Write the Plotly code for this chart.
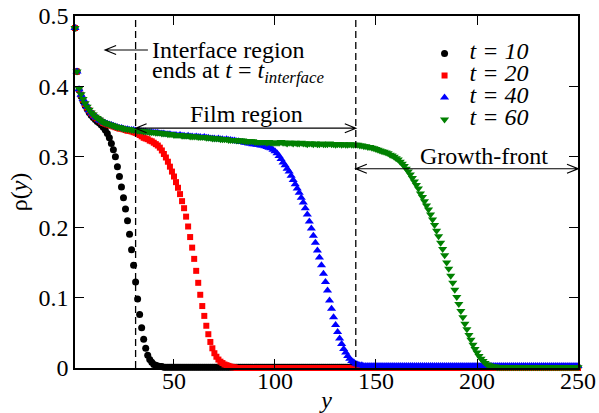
import plotly.graph_objects as go

# positions along y (lattice rows)
y_pos = list(range(1, 251))

rho_t10 = [
    0.483, 0.421, 0.395, 0.386, 0.379, 0.373, 0.368, 0.363, 0.359, 0.356,
    0.353, 0.350, 0.348, 0.345, 0.342, 0.338, 0.333, 0.327, 0.319, 0.310,
    0.300, 0.286, 0.272, 0.257, 0.242, 0.226, 0.209, 0.190, 0.168, 0.146,
    0.122, 0.098, 0.076, 0.057, 0.041, 0.028, 0.018, 0.012, 0.008, 0.005,
    0.004, 0.003, 0.002, 0.002, 0.001, 0.001, 0.001, 0.001, 0.001, 0.001,
    0.001, 0.001, 0.001, 0.001, 0.001, 0.001, 0.001, 0.001, 0.001, 0.001,
    0.001, 0.001, 0.001, 0.001, 0.001, 0.001, 0.001, 0.001, 0.001, 0.001,
    0.001, 0.001, 0.001, 0.001, 0.001, 0.001, 0.001, 0.001, 0.001, 0.001,
    0.001, 0.001, 0.001, 0.001, 0.001, 0.001, 0.001, 0.001, 0.001, 0.001,
    0.001, 0.001, 0.001, 0.001, 0.001, 0.001, 0.001, 0.001, 0.001, 0.001,
    0.001, 0.001, 0.001, 0.001, 0.001, 0.001, 0.001, 0.001, 0.001, 0.001,
    0.001, 0.001, 0.001, 0.001, 0.001, 0.001, 0.001, 0.001, 0.001, 0.001,
    0.001, 0.001, 0.001, 0.001, 0.001, 0.001, 0.001, 0.001, 0.001, 0.001,
    0.001, 0.001, 0.001, 0.001, 0.001, 0.001, 0.001, 0.001, 0.001, 0.001,
    0.001, 0.001, 0.001, 0.001, 0.001, 0.001, 0.001, 0.001, 0.001, 0.001,
    0.001, 0.001, 0.001, 0.001, 0.001, 0.001, 0.001, 0.001, 0.001, 0.001,
    0.001, 0.001, 0.001, 0.001, 0.001, 0.001, 0.001, 0.001, 0.001, 0.001,
    0.001, 0.001, 0.001, 0.001, 0.001, 0.001, 0.001, 0.001, 0.001, 0.001,
    0.001, 0.001, 0.001, 0.001, 0.001, 0.001, 0.001, 0.001, 0.001, 0.001,
    0.001, 0.001, 0.001, 0.001, 0.001, 0.001, 0.001, 0.001, 0.001, 0.001,
    0.001, 0.001, 0.001, 0.001, 0.001, 0.001, 0.001, 0.001, 0.001, 0.001,
    0.001, 0.001, 0.001, 0.001, 0.001, 0.001, 0.001, 0.001, 0.001, 0.001,
    0.001, 0.001, 0.001, 0.001, 0.001, 0.001, 0.001, 0.001, 0.001, 0.001,
    0.001, 0.001, 0.001, 0.001, 0.001, 0.001, 0.001, 0.001, 0.001, 0.001,
    0.001, 0.001, 0.001, 0.001, 0.001, 0.001, 0.001, 0.001, 0.001, 0.001,
]

rho_t20 = [
    0.483, 0.421, 0.396, 0.388, 0.381, 0.375, 0.370, 0.366, 0.362, 0.359,
    0.356, 0.354, 0.352, 0.350, 0.348, 0.347, 0.346, 0.345, 0.344, 0.343,
    0.342, 0.341, 0.340, 0.340, 0.339, 0.338, 0.337, 0.337, 0.336, 0.335,
    0.334, 0.333, 0.331, 0.329, 0.327, 0.326, 0.325, 0.323, 0.322, 0.320,
    0.318, 0.316, 0.313, 0.309, 0.304, 0.299, 0.293, 0.286, 0.279, 0.272,
    0.264, 0.256, 0.247, 0.237, 0.227, 0.215, 0.201, 0.186, 0.171, 0.155,
    0.138, 0.121, 0.104, 0.088, 0.074, 0.060, 0.048, 0.037, 0.028, 0.021,
    0.016, 0.012, 0.009, 0.007, 0.005, 0.004, 0.003, 0.002, 0.001, 0.001,
    0.0, 0.0, 0.0, 0.0, 0.0, 0.0, 0.0, 0.0, 0.0, 0.0,
    0.0, 0.0, 0.0, 0.0, 0.0, 0.0, 0.0, 0.0, 0.0, 0.0,
    0.0, 0.0, 0.0, 0.0, 0.0, 0.0, 0.0, 0.0, 0.0, 0.0,
    0.0, 0.0, 0.0, 0.0, 0.0, 0.0, 0.0, 0.0, 0.0, 0.0,
    0.0, 0.0, 0.0, 0.0, 0.0, 0.0, 0.0, 0.0, 0.0, 0.0,
    0.0, 0.0, 0.0, 0.0, 0.0, 0.0, 0.0, 0.0, 0.0, 0.0,
    0.0, 0.0, 0.0, 0.0, 0.0, 0.0, 0.0, 0.0, 0.0, 0.0,
    0.0, 0.0, 0.0, 0.0, 0.0, 0.0, 0.0, 0.0, 0.0, 0.0,
    0.0, 0.0, 0.0, 0.0, 0.0, 0.0, 0.0, 0.0, 0.0, 0.0,
    0.0, 0.0, 0.0, 0.0, 0.0, 0.0, 0.0, 0.0, 0.0, 0.0,
    0.0, 0.0, 0.0, 0.0, 0.0, 0.0, 0.0, 0.0, 0.0, 0.0,
    0.0, 0.0, 0.0, 0.0, 0.0, 0.0, 0.0, 0.0, 0.0, 0.0,
    0.0, 0.0, 0.0, 0.0, 0.0, 0.0, 0.0, 0.0, 0.0, 0.0,
    0.0, 0.0, 0.0, 0.0, 0.0, 0.0, 0.0, 0.0, 0.0, 0.0,
    0.0, 0.0, 0.0, 0.0, 0.0, 0.0, 0.0, 0.0, 0.0, 0.0,
    0.0, 0.0, 0.0, 0.0, 0.0, 0.0, 0.0, 0.0, 0.0, 0.0,
    0.0, 0.0, 0.0, 0.0, 0.0, 0.0, 0.0, 0.0, 0.0, 0.0,
]

rho_t40 = [
    0.483, 0.421, 0.396, 0.388, 0.382, 0.376, 0.371, 0.366, 0.363, 0.360,
    0.357, 0.355, 0.352, 0.351, 0.349, 0.348, 0.347, 0.346, 0.345, 0.344,
    0.343, 0.342, 0.341, 0.341, 0.340, 0.339, 0.339, 0.338, 0.338, 0.338,
    0.337, 0.337, 0.337, 0.336, 0.336, 0.336, 0.335, 0.335, 0.335, 0.334,
    0.334, 0.334, 0.333, 0.333, 0.333, 0.332, 0.332, 0.332, 0.331, 0.331,
    0.331, 0.330, 0.331, 0.330, 0.330, 0.329, 0.330, 0.329, 0.329, 0.328,
    0.329, 0.328, 0.328, 0.327, 0.328, 0.327, 0.327, 0.326, 0.326, 0.326,
    0.325, 0.326, 0.325, 0.325, 0.324, 0.325, 0.324, 0.324, 0.323, 0.323,
    0.322, 0.322, 0.321, 0.321, 0.320, 0.320, 0.319, 0.319, 0.318, 0.318,
    0.317, 0.317, 0.316, 0.316, 0.315, 0.314, 0.313, 0.312, 0.310, 0.308,
    0.305, 0.301, 0.297, 0.292, 0.288, 0.283, 0.279, 0.273, 0.267, 0.261,
    0.255, 0.249, 0.242, 0.235, 0.227, 0.218, 0.208, 0.198, 0.188, 0.178,
    0.167, 0.157, 0.146, 0.134, 0.122, 0.110, 0.096, 0.084, 0.072, 0.061,
    0.051, 0.042, 0.034, 0.027, 0.022, 0.017, 0.013, 0.010, 0.008, 0.006,
    0.005, 0.004, 0.004, 0.003, 0.003, 0.003, 0.003, 0.003, 0.003, 0.003,
    0.003, 0.003, 0.003, 0.003, 0.003, 0.003, 0.003, 0.003, 0.003, 0.003,
    0.003, 0.003, 0.003, 0.003, 0.003, 0.003, 0.003, 0.003, 0.003, 0.003,
    0.003, 0.003, 0.003, 0.003, 0.003, 0.003, 0.003, 0.003, 0.003, 0.003,
    0.003, 0.003, 0.003, 0.003, 0.003, 0.003, 0.003, 0.003, 0.003, 0.003,
    0.003, 0.003, 0.003, 0.003, 0.003, 0.003, 0.003, 0.003, 0.003, 0.003,
    0.003, 0.003, 0.003, 0.003, 0.003, 0.003, 0.003, 0.003, 0.003, 0.003,
    0.003, 0.003, 0.003, 0.003, 0.003, 0.003, 0.003, 0.003, 0.003, 0.003,
    0.003, 0.003, 0.003, 0.003, 0.003, 0.003, 0.003, 0.003, 0.003, 0.003,
    0.003, 0.003, 0.003, 0.003, 0.003, 0.003, 0.003, 0.003, 0.003, 0.003,
    0.003, 0.003, 0.003, 0.003, 0.003, 0.003, 0.003, 0.003, 0.003, 0.003,
]

rho_t60 = [
    0.483, 0.421, 0.397, 0.389, 0.382, 0.376, 0.371, 0.367, 0.363, 0.360,
    0.357, 0.355, 0.353, 0.351, 0.349, 0.348, 0.347, 0.346, 0.345, 0.344,
    0.343, 0.342, 0.342, 0.341, 0.340, 0.340, 0.339, 0.339, 0.338, 0.338,
    0.338, 0.337, 0.337, 0.337, 0.336, 0.336, 0.336, 0.335, 0.335, 0.335,
    0.334, 0.334, 0.334, 0.333, 0.333, 0.333, 0.332, 0.332, 0.332, 0.331,
    0.331, 0.331, 0.331, 0.330, 0.330, 0.330, 0.330, 0.329, 0.329, 0.329,
    0.329, 0.328, 0.328, 0.328, 0.328, 0.327, 0.327, 0.327, 0.326, 0.326,
    0.326, 0.326, 0.325, 0.325, 0.325, 0.325, 0.324, 0.324, 0.324, 0.324,
    0.323, 0.323, 0.323, 0.323, 0.322, 0.322, 0.322, 0.322, 0.322, 0.321,
    0.321, 0.321, 0.321, 0.321, 0.321, 0.320, 0.321, 0.320, 0.320, 0.320,
    0.320, 0.320, 0.321, 0.320, 0.320, 0.319, 0.320, 0.320, 0.319, 0.320,
    0.319, 0.319, 0.320, 0.319, 0.319, 0.318, 0.319, 0.319, 0.318, 0.319,
    0.318, 0.318, 0.319, 0.318, 0.318, 0.318, 0.319, 0.318, 0.318, 0.317,
    0.318, 0.318, 0.317, 0.318, 0.317, 0.317, 0.318, 0.317, 0.317, 0.317,
    0.317, 0.316, 0.316, 0.315, 0.315, 0.314, 0.314, 0.313, 0.312, 0.311,
    0.310, 0.309, 0.308, 0.307, 0.306, 0.305, 0.303, 0.302, 0.300, 0.298,
    0.296, 0.293, 0.290, 0.287, 0.283, 0.279, 0.275, 0.270, 0.265, 0.260,
    0.255, 0.248, 0.243, 0.237, 0.231, 0.225, 0.218, 0.211, 0.203, 0.195,
    0.187, 0.178, 0.169, 0.160, 0.150, 0.141, 0.131, 0.121, 0.111, 0.101,
    0.091, 0.081, 0.072, 0.063, 0.055, 0.047, 0.040, 0.033, 0.027, 0.022,
    0.017, 0.013, 0.010, 0.007, 0.005, 0.004, 0.003, 0.002, 0.002, 0.001,
    0.001, 0.001, 0.001, 0.001, 0.001, 0.001, 0.001, 0.001, 0.001, 0.001,
    0.001, 0.001, 0.001, 0.001, 0.001, 0.001, 0.001, 0.001, 0.001, 0.001,
    0.001, 0.001, 0.001, 0.001, 0.001, 0.001, 0.001, 0.001, 0.001, 0.001,
    0.001, 0.001, 0.001, 0.001, 0.001, 0.001, 0.001, 0.001, 0.001, 0.001,
]

for s in (rho_t10, rho_t20, rho_t40, rho_t60):
    assert len(s) == 250, len(s)

series_names = ["t = 10", "t = 20", "t = 40", "t = 60"]
series_values = [rho_t10, rho_t20, rho_t40, rho_t60]
series_colors = ["black", "red", "blue", "green"]
series_symbols = ["circle", "square", "triangle-up", "triangle-down"]
series_sizes = [7, 6, 8, 8]

x_tick_vals = [50, 100, 150, 200, 250]
y_tick_vals = [0, 0.1, 0.2, 0.3, 0.4, 0.5]
y_tick_text = ["0", "0.1", "0.2", "0.3", "0.4", "0.5"]

# region boundaries (annotation geometry)
interface_end = 31
film_end = 140
y_end = 250
arrow_interface_y = 0.4517
arrow_film_y = 0.3406
arrow_growth_y = 0.283

FONT = "Liberation Serif"

fig = go.Figure()
for name, vals, col, sym, sz in zip(series_names, series_values, series_colors,
                                    series_symbols, series_sizes):
    fig.add_trace(go.Scatter(
        x=y_pos, y=vals, mode="markers",
        name='<span style="font-size:24px"><i>' + name + '</i></span>',
        marker=dict(color=col, symbol=sym, size=sz, line=dict(width=0)),
        cliponaxis=False,
    ))

# pixel->data helpers for arrow heads
plot_w = 599 - 75 - 21
plot_h = 413 - 16 - 45
px_x = (y_end - 1) / plot_w
px_y = 0.5 / plot_h
hx = 11 * px_x
hy = 4.5 * px_y

shapes = []
for xv in (interface_end, film_end):
    shapes.append(dict(type="line", xref="x", yref="y", x0=xv, x1=xv, y0=0, y1=0.5,
                       line=dict(color="black", width=1.3, dash="7px,4px")))


def arrow_path(x_left, x_right, yv, left_head, right_head):
    p = f"M{x_left},{yv} L{x_right},{yv}"
    if left_head:
        p += f" M{x_left + hx},{yv + hy} L{x_left},{yv} L{x_left + hx},{yv - hy}"
    if right_head:
        p += f" M{x_right - hx},{yv + hy} L{x_right},{yv} L{x_right - hx},{yv - hy}"
    return p


arrow_specs = [
    (15.9, 37.1, arrow_interface_y, True, False),
    (interface_end, film_end, arrow_film_y, True, True),
    (film_end, y_end, arrow_growth_y, True, True),
]
for xl, xr, yv, lh, rh in arrow_specs:
    shapes.append(dict(type="path", xref="x", yref="y", path=arrow_path(xl, xr, yv, lh, rh),
                       line=dict(color="black", width=1.2)))

annotations = [
    dict(x=38.0, y=0.4517, xref="x", yref="y", text="Interface region", showarrow=False,
         xanchor="left", yanchor="middle", font=dict(size=24, family=FONT, color="black")),
    dict(x=38.0, y=0.421, xref="x", yref="y",
         text="ends at <i>t</i> = <i>t</i><sub><i>interface</i></sub>", showarrow=False,
         xanchor="left", yanchor="middle", font=dict(size=24, family=FONT, color="black")),
    dict(x=86.1, y=0.361, xref="x", yref="y", text="Film region", showarrow=False,
         xanchor="center", yanchor="middle", font=dict(size=24, family=FONT, color="black")),
    dict(x=203.5, y=0.301, xref="x", yref="y", text="Growth-front", showarrow=False,
         xanchor="center", yanchor="middle", font=dict(size=24, family=FONT, color="black")),
]

axis_common = dict(
    showline=True, linecolor="black", linewidth=1.5, mirror="ticks",
    ticks="inside", ticklen=9, tickwidth=1.3, tickcolor="black",
    showgrid=False, zeroline=False, automargin=False,
    tickfont=dict(size=24, family=FONT, color="black"),
)

fig.update_layout(
    width=599, height=413,
    margin=dict(l=75, r=21, t=16, b=45),
    paper_bgcolor="white", plot_bgcolor="white",
    font=dict(family=FONT, size=24, color="black"),
    xaxis=dict(range=[1, y_end], tickvals=x_tick_vals, ticklabelstandoff=-10,
               title=dict(text="<i>y</i>", font=dict(size=24, family=FONT), standoff=0),
               **axis_common),
    yaxis=dict(range=[0, 0.5], tickvals=y_tick_vals, ticktext=y_tick_text,
               ticklabelstandoff=0,
               title=dict(text="ρ(<i>y</i>)", font=dict(size=24, family=FONT), standoff=4),
               **axis_common),
    legend=dict(x=0.685, y=0.939, xanchor="left", yanchor="top",
                bgcolor="rgba(0,0,0,0)", borderwidth=0, itemwidth=40,
                font=dict(size=14.6, family=FONT, color="black"),
                tracegroupgap=0),
    shapes=shapes,
    annotations=annotations,
)

fig.write_html("out.html", config={"displayModeBar": False},
               post_script="document.body.style.margin='0px';")
